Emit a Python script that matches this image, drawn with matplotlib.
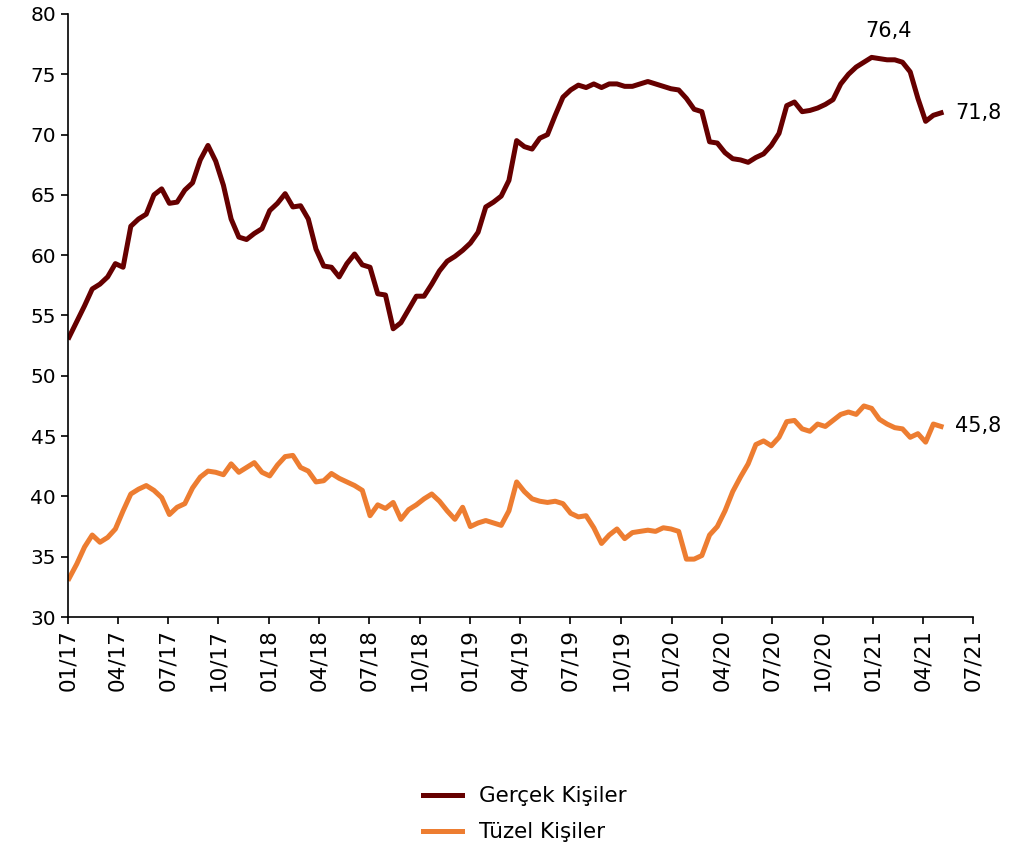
import numpy as np
import pandas as pd
import matplotlib.pyplot as plt
import matplotlib.dates as mdates

# iki haftalik veriler (2017-01-03 -> 2021-05-06)
dates = pd.date_range("2017-01-03", periods=114, freq="14D")

gercek = [53.2, 54.5, 55.8, 57.2, 57.6, 58.2, 59.3, 59.0, 62.4, 63.0,
          63.4, 65.0, 65.5, 64.3, 64.4, 65.4, 66.0, 67.9, 69.1, 67.8,
          65.8, 63.0, 61.5, 61.3, 61.8, 62.2, 63.7, 64.3, 65.1, 64.0,
          64.1, 63.0, 60.5, 59.1, 59.0, 58.2, 59.3, 60.1, 59.2, 59.0,
          56.8, 56.7, 53.9, 54.4, 55.5, 56.6, 56.6, 57.6, 58.7, 59.5,
          59.9, 60.4, 61.0, 61.9, 64.0, 64.4, 64.9, 66.2, 69.5, 69.0,
          68.8, 69.7, 70.0, 71.6, 73.1, 73.7, 74.1, 73.9, 74.2, 73.9,
          74.2, 74.2, 74.0, 74.0, 74.2, 74.4, 74.2, 74.0, 73.8, 73.7,
          73.0, 72.1, 71.9, 69.4, 69.3, 68.5, 68.0, 67.9, 67.7, 68.1,
          68.4, 69.1, 70.1, 72.4, 72.7, 71.9, 72.0, 72.2, 72.5, 72.9,
          74.2, 75.0, 75.6, 76.0, 76.4, 76.3, 76.2, 76.2, 76.0, 75.2,
          73.0, 71.1, 71.6, 71.8]

tuzel = [33.2, 34.4, 35.8, 36.8, 36.2, 36.6, 37.3, 38.8, 40.2, 40.6,
         40.9, 40.5, 39.9, 38.5, 39.1, 39.4, 40.7, 41.6, 42.1, 42.0,
         41.8, 42.7, 42.0, 42.4, 42.8, 42.0, 41.7, 42.6, 43.3, 43.4,
         42.4, 42.1, 41.2, 41.3, 41.9, 41.5, 41.2, 40.9, 40.5, 38.4,
         39.3, 39.0, 39.5, 38.1, 38.9, 39.3, 39.8, 40.2, 39.6, 38.8,
         38.1, 39.1, 37.5, 37.8, 38.0, 37.8, 37.6, 38.8, 41.2, 40.4,
         39.8, 39.6, 39.5, 39.6, 39.4, 38.6, 38.3, 38.4, 37.4, 36.1,
         36.8, 37.3, 36.5, 37.0, 37.1, 37.2, 37.1, 37.4, 37.3, 37.1,
         34.8, 34.8, 35.1, 36.8, 37.5, 38.8, 40.4, 41.6, 42.7, 44.3,
         44.6, 44.2, 44.9, 46.2, 46.3, 45.6, 45.4, 46.0, 45.8, 46.3,
         46.8, 47.0, 46.8, 47.5, 47.3, 46.4, 46.0, 45.7, 45.6, 44.9,
         45.2, 44.5, 46.0, 45.8]

fig = plt.figure(figsize=(10.1, 8.52), dpi=100)
ax = fig.add_axes([0.0673, 0.2758, 0.8961, 0.7078])

ax.plot(dates, gercek, color="#660000", lw=3.6, label="Gerçek Kişiler")
ax.plot(dates, tuzel, color="#ED7D31", lw=3.6, label="Tüzel Kişiler")

ax.set_ylim(30, 80)
ax.set_yticks(range(30, 81, 5))
ax.set_xlim(pd.Timestamp("2017-01-01"), pd.Timestamp("2021-07-01"))
ax.xaxis.set_major_locator(mdates.MonthLocator(bymonth=[1, 4, 7, 10]))
ax.xaxis.set_major_formatter(mdates.DateFormatter("%m/%y"))
plt.setp(ax.get_xticklabels(), rotation=90)
ax.tick_params(axis="y", labelsize=14.5)
ax.tick_params(axis="x", labelsize=15.5)
ax.tick_params(length=5, width=1.2, direction="out")

for s in ["top", "right"]:
    ax.spines[s].set_visible(False)
for s in ["left", "bottom"]:
    ax.spines[s].set_linewidth(1.2)

# etiketler
imax = int(np.argmax(gercek))
ax.annotate(f"{gercek[imax]:.1f}".replace(".", ","), (dates[imax], gercek[imax]),
            xytext=(12, 12), textcoords="offset points", ha="center", va="bottom", fontsize=15)
ax.annotate(f"{gercek[-1]:.1f}".replace(".", ","), (dates[-1], gercek[-1]),
            xytext=(10, 0), textcoords="offset points", ha="left", va="center", fontsize=15)
ax.annotate(f"{tuzel[-1]:.1f}".replace(".", ","), (dates[-1], tuzel[-1]),
            xytext=(10, 0), textcoords="offset points", ha="left", va="center", fontsize=15)

fig.legend(loc="upper center", bbox_to_anchor=(0.52, 0.1), ncol=1, frameon=False,
           fontsize=15.5, handlelength=1.8, labelspacing=0.75)

plt.savefig("out.png", dpi=100)
